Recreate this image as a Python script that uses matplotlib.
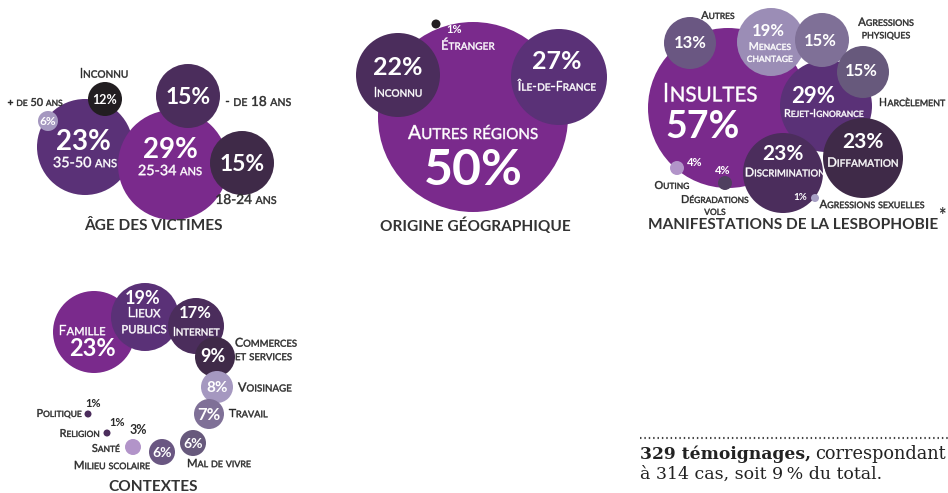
import matplotlib
matplotlib.use("Agg")
import matplotlib.pyplot as plt
from matplotlib.patches import Circle, PathPatch
from matplotlib.textpath import TextPath
from matplotlib.transforms import Affine2D
from matplotlib.font_manager import findfont, FontProperties, get_font
from matplotlib.offsetbox import TextArea, HPacker, AnnotationBbox

FONT = "Lato"
W = "white"
D = "#2b2b2b"

# colours
P1 = "#7a2a8c"
P2 = "#5a3177"
P3 = "#4b2d5c"
P4 = "#3f2a48"
BLK = "#221e21"
L1 = "#a598c0"
L2 = "#9b8db6"
G1 = "#7f7097"
G2 = "#67597c"
G3 = "#6a5782"
PK = "#b294c9"

# ---- data ----
age_labels = ["35-50 ans", "25-34 ans", "Inconnu", "+ de 50 ans", "- de 18 ans", "18-24 ans"]
age_values = [23, 29, 12, 6, 15, 15]

origin_labels = ["Autres régions", "Inconnu", "Île-de-France", "Étranger"]
origin_values = [50, 22, 27, 1]

manif_labels = ["Insultes", "Rejet-Ignorance", "Autres", "Menaces\nchantage", "Agressions\nphysiques",
                "Harcèlement", "Discrimination", "Diffamation", "Outing", "Dégradations\nvols",
                "Agressions sexuelles"]
manif_values = [57, 29, 13, 19, 15, 15, 23, 23, 4, 4, 1]

ctx_labels = ["Famille", "Lieux\npublics", "Internet", "Commerces\net services", "Voisinage", "Travail",
              "Mal de vivre", "Milieu scolaire", "Santé", "Religion", "Politique"]
ctx_values = [23, 19, 17, 9, 8, 7, 6, 6, 3, 1, 1]

titles = ["ÂGE DES VICTIMES", "ORIGINE GÉOGRAPHIQUE", "MANIFESTATIONS DE LA LESBOPHOBIE", "CONTEXTES"]

# ---- layout (pixels) ----
# x, y, r, colour, pct x, pct y, pct size, pct colour, label x, label y, label size, label colour, align
age_layout = [
    (85, 147, 48, P2, 83, 140, 20, W, 85, 162, 10.3, W, "center"),
    (173, 165, 55, P1, 170, 148, 20, W, 170, 170, 10.3, W, "center"),
    (105, 99, 17, BLK, 105, 99, 9, W, 104, 73, 9.3, D, "center"),
    (48, 121, 10, L1, 48, 121, 8.5, W, 35, 102, 7.8, D, "center"),
    (188, 96, 32, P3, 188, 96, 16.5, W, 258, 101, 9.8, D, "center"),
    (242, 163, 32, P4, 242, 163, 16.5, W, 246, 199, 9.8, D, "center"),
]
origin_layout = [
    (473, 117, 95, P1, 473, 167, 36, W, 473, 132, 14, W, "center"),
    (398, 75, 42, P3, 398, 66, 18, W, 398, 92, 9.3, W, "center"),
    (559, 77, 48, P2, 557, 60, 18, W, 557, 86, 9.3, W, "center"),
    (436, 24, 4.5, BLK, 454, 29, 8, W, 468, 45, 9.3, W, "center"),
]
manif_layout = [
    (728, 108, 80, P1, 703, 125, 27, W, 710, 92, 19, W, "center"),
    (826, 106, 46, P2, 813, 95, 16, W, 824, 113, 7.8, W, "center"),
    (690, 43, 26, G3, 690, 42, 12, W, 718, 15, 7.8, D, "center"),
    (771, 42, 34, L2, 768, 30, 12, W, 770, 52, 7.8, W, "center"),
    (822, 40, 27, G1, 820, 40, 12, W, 886, 28, 8.2, D, "center"),
    (863, 72, 26, G2, 861, 70, 12, W, 912, 102, 8.2, D, "center"),
    (783, 173, 40, P3, 783, 152, 15, W, 785, 172, 8.8, W, "center"),
    (863, 158, 40, P4, 863, 140, 15, W, 863, 162, 9.3, W, "center"),
    (677, 168, 7, PK, 695, 162, 8, W, 672, 185, 7.8, D, "center"),
    (725, 183, 7, "#4f3f5f", 723, 170, 8, W, 715, 205, 7.8, D, "center"),
    (815, 198, 4, "#a79fc4", 800, 196, 7, W, 872, 204, 8.2, D, "center"),
]
ctx_layout = [
    (94, 332, 41, P1, 92, 348, 17, W, 82, 330, 10.3, W, "center"),
    (145, 317, 34, P2, 143, 297, 13, W, 144, 320, 10.5, W, "center"),
    (196, 326, 28, P3, 195, 312, 12, W, 196, 331, 9, W, "center"),
    (215, 357, 20, P4, 213, 356, 13, W, 235, 349, 8.8, D, "left"),
    (217, 387, 16, L1, 217, 387, 11, W, 238, 387, 9, D, "left"),
    (209, 414, 15, G1, 209, 414, 12, W, 229, 413, 8.5, D, "left"),
    (193, 443, 13, G2, 193, 443, 10, W, 187, 463, 8.2, D, "left"),
    (162, 452, 13, G3, 162, 452, 10, W, 112, 465, 8.2, D, "center"),
    (133, 447, 8, PK, 138, 430, 9, D, 120, 448, 7.8, D, "right"),
    (107, 433, 3.5, P3, 117, 422, 8, D, 100, 433, 7.8, D, "right"),
    (88, 414, 3.5, P3, 93, 403, 8, D, 82, 413, 7.8, D, "right"),
]
title_pos = [(153, 226), (475, 226), (793, 225), (153, 487)]

label_prop = FontProperties(family=FONT)


def adv_width(s, px):
    # unhinted advance width in pixels of a string at px pixels per em
    font = get_font(findfont(label_prop))
    font.set_size(px * 0.72, 100)
    return sum(font.load_char(ord(c)).linearHoriAdvance for c in s) / 65536


def small_caps(ax, x, y, text, size, color, ha="center"):
    # small caps drawn as glyph outlines, lower case letters become smaller capitals
    lines = text.split("\n")
    lh = 1.1 * size / 0.72
    for i, line in enumerate(lines):
        runs = []
        cur, low = "", None
        for ch in line:
            is_low = ch.islower()
            if low is None or is_low == low:
                cur += ch
            else:
                runs.append((cur, low))
                cur = ch
            low = is_low
        runs.append((cur, low))
        runs = [(s.upper(), size * 0.78 / 0.72) if lo else (s, size / 0.72) for s, lo in runs]
        widths = [adv_width(s, px) for s, px in runs]
        x0 = x - sum(widths) * {"center": 0.5, "left": 0.0, "right": 1.0}[ha]
        yb = y + size * 0.5 + (i - (len(lines) - 1) / 2) * lh
        for (s, px), w in zip(runs, widths):
            if s.strip():
                path = TextPath((0, 0), s, size=px, prop=label_prop)
                path = path.transformed(Affine2D().scale(1, -1).translate(x0, yb))
                ax.add_patch(PathPatch(path, fc=color, ec=color, lw=0.3, zorder=5))
            x0 += w


def draw_bubbles(ax, values, labels, layout):
    for v, lay in zip(values, layout):
        x, y, r, col = lay[:4]
        ax.add_patch(Circle((x, y), r, color=col, lw=0, zorder=1))
    for v, lab, lay in zip(values, labels, layout):
        px, py, ps, pc, lx, ly, ls, lc, ha = lay[4:]
        ax.text(px, py + ps * 0.5, f"{v}%", ha="center", va="baseline", fontsize=ps,
                fontweight="bold", color=pc, family=FONT, zorder=5)
        small_caps(ax, lx, ly, lab, ls, lc, ha)


fig = plt.figure(figsize=(9.48, 4.93), dpi=100)
ax = fig.add_axes([0, 0, 1, 1])
ax.set_xlim(0, 948)
ax.set_ylim(493, 0)
ax.axis("off")

draw_bubbles(ax, age_values, age_labels, age_layout)
draw_bubbles(ax, origin_values, origin_labels, origin_layout)
draw_bubbles(ax, manif_values, manif_labels, manif_layout)
draw_bubbles(ax, ctx_values, ctx_labels, ctx_layout)

for t, (tx, ty) in zip(titles, title_pos):
    ax.text(tx, ty, t, ha="center", va="center", fontsize=11.1, fontweight="bold",
            color="#333333", family=FONT)
ax.text(938, 216, "*", ha="left", va="center", fontsize=13, fontweight="bold", color="#333333", family=FONT)

# note in the bottom right corner
ax.plot([640, 948], [438, 438], ls=(0, (0.7, 1.4)), lw=1.5, color="#444444")
note = HPacker(children=[
    TextArea("329 témoignages,", textprops=dict(fontsize=12.3, fontweight="bold", color="#222222",
                                                family="DejaVu Serif")),
    TextArea("correspondant", textprops=dict(fontsize=12.8, color="#222222", family="DejaVu Serif")),
], align="baseline", pad=0, sep=3)
ax.add_artist(AnnotationBbox(note, (640, 454), frameon=False, box_alignment=(0, 0.5), pad=0,
                             annotation_clip=False))
ax.text(640, 474, "à 314 cas, soit 9\u2009% du total.", ha="left", va="center", fontsize=12.5,
        color="#222222", family="DejaVu Serif")

fig.savefig("out.png", dpi=100)
